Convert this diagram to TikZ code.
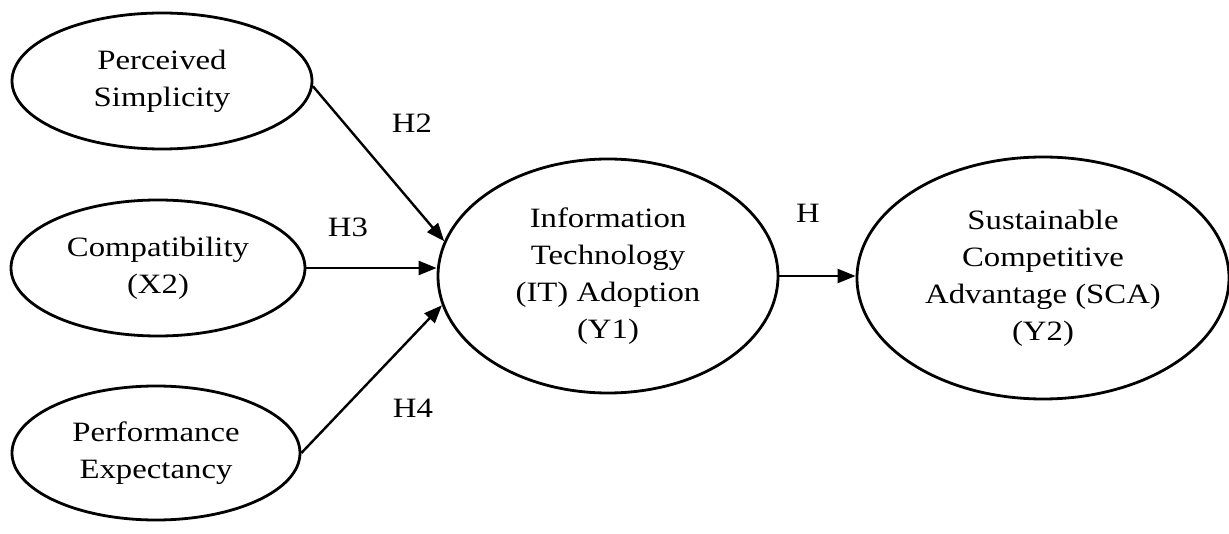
\documentclass[tikz,border=0pt]{standalone}
\usepackage{fontspec}
\setmainfont{Liberation Serif}[FakeStretch=1.17]
\usetikzlibrary{shapes.geometric,arrows.meta}

\begin{document}
\begin{tikzpicture}[x=1pt,y=-1pt,
  txt/.style={font=\fontsize{28}{37}\selectfont},
  construct/.style={txt,ellipse,draw,line width=2.8pt,inner sep=0pt,align=center},
  link/.style={line width=2.4pt,-{Triangle[length=18pt,width=14pt]}},
  hyp/.style={txt,inner sep=0pt}]
  \useasboundingbox (0,0) rectangle (1229,534);

  % constructs
  \node[construct,minimum width=300pt,minimum height=136pt] (ps) at (162,81)  {Perceived\\Simplicity};
  \node[construct,minimum width=294pt,minimum height=136pt] (cp) at (158,268) {Compatibility\\(X2)};
  \node[construct,minimum width=288pt,minimum height=134pt] (pe) at (156,453) {Performance\\Expectancy};
  \node[construct,minimum width=340pt,minimum height=234pt] (it) at (608,276) {Information\\Technology\\(IT) Adoption\\(Y1)};
  \node[construct,minimum width=372pt,minimum height=242pt] (sca) at (1043,278) {Sustainable\\Competitive\\Advantage (SCA)\\(Y2)};

  % hypothesised paths
  \draw[link] (ps.-2) -- (it.168);
  \draw[link] (cp.east) -- (cp.east -| it.west);
  \draw[link] (pe.east) -- (it.190);
  \draw[link] (it.east) -- (it.east -| sca.west);

  % hypothesis labels
  \node[hyp] (h2) at (412,123) {H2};
  \node[hyp] (h3) at (348,227) {H3};
  \node[hyp] (h4) at (413,408) {H4};
  \node[hyp] (h)  at (808,213) {H};
\end{tikzpicture}
\end{document}
